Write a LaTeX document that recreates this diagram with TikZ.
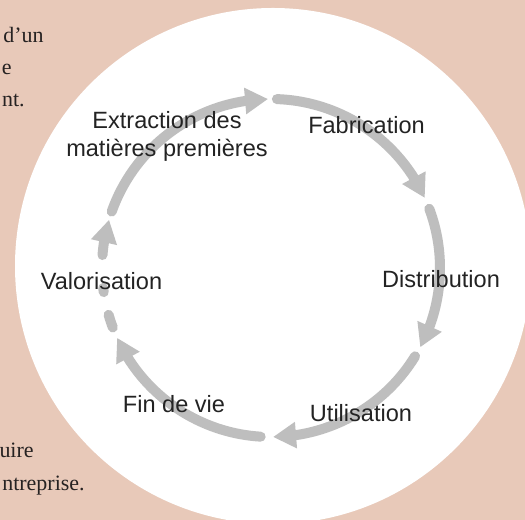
\documentclass[tikz,border=0pt]{standalone}
\usepackage{fontspec}
\setmainfont{Liberation Serif}
\newfontfamily\labelfont{Liberation Sans}
\usetikzlibrary{arrows.meta,bending}
\definecolor{pagebg}{RGB}{232,201,185}
\definecolor{cyclegray}{RGB}{190,190,190}
\definecolor{labelink}{RGB}{35,35,35}
\definecolor{bodyink}{RGB}{38,34,34}
\begin{document}
\begin{tikzpicture}[x=0.02cm,y=0.02cm,
  stage/.style={font=\labelfont\fontsize{13.4}{15.9}\selectfont, text=labelink,
                inner sep=0pt, anchor=base, align=center},
  bodytext/.style={font=\fontsize{12.5}{15}\selectfont, text=bodyink,
                   inner sep=0pt, anchor=base east},
  cycarc/.style={draw=cyclegray, line width=0.2cm, line cap=round},
  cyc/.style={cycarc, -{Triangle[length=0.46cm,width=0.5cm,flex]}}]
\clip (0,0) rectangle (525,520);
\fill[pagebg] (0,0) rectangle (525,520);

% running text of the page behind the round panel
\node[bodytext] (b1) at (44,477) {d’un};
\node[bodytext] (b2) at (12,445) {e};
\node[bodytext] (b3) at (25,413) {nt.};
\node[bodytext] (b4) at (34,62) {uire};
\node[bodytext] (b5) at (85,29) {ntreprise.};

% round white panel
\fill[white] (273,254) circle[radius=258];

% life-cycle ring
\coordinate (c) at (271,252);
\def\ringr{169}
\coordinate (s1) at ([shift={(160.5:\ringr)}]c);
\coordinate (s2) at ([shift={(88:\ringr)}]c);
\coordinate (s3) at ([shift={(20.5:\ringr)}]c);
\coordinate (s4) at ([shift={(-31.5:\ringr)}]c);
\coordinate (s5) at ([shift={(-93.5:\ringr)}]c);
\coordinate (d1) at ([shift={(200.6:\ringr)}]c);
\coordinate (d2) at ([shift={(188.2:\ringr)}]c);
\coordinate (s6) at ([shift={(175.6:\ringr)}]c);

\draw[cyc] (s1) arc[start angle=160.5, end angle=91, radius=\ringr];
\draw[cyc] (s2) arc[start angle=88, end angle=24.5, radius=\ringr];
\draw[cyc] (s3) arc[start angle=20.5, end angle=-28, radius=\ringr];
\draw[cyc] (s4) arc[start angle=-31.5, end angle=-89.3, radius=\ringr];
\draw[cyc] (s5) arc[start angle=-93.5, end angle=-155.6, radius=\ringr];
% broken last step
\draw[cycarc] (d1) arc[start angle=200.6, end angle=196.1, radius=\ringr];
\draw[cycarc] (d2) arc[start angle=188.2, end angle=186.8, radius=\ringr];
\draw[cyc] (s6) arc[start angle=175.6, end angle=163.4, radius=\ringr];

% stage labels
\node[stage, anchor=center] (extraction) at (167,384) {Extraction des\\matières premières};
\node[stage] (fabrication) at (366.5,386) {Fabrication};
\node[stage] (distribution) at (441,232) {Distribution};
\node[stage] (utilisation) at (361,98) {Utilisation};
\node[stage] (findevie) at (174,107) {Fin de vie};
\node[stage] (valorisation) at (101.5,230) {Valorisation};
\end{tikzpicture}
\end{document}
